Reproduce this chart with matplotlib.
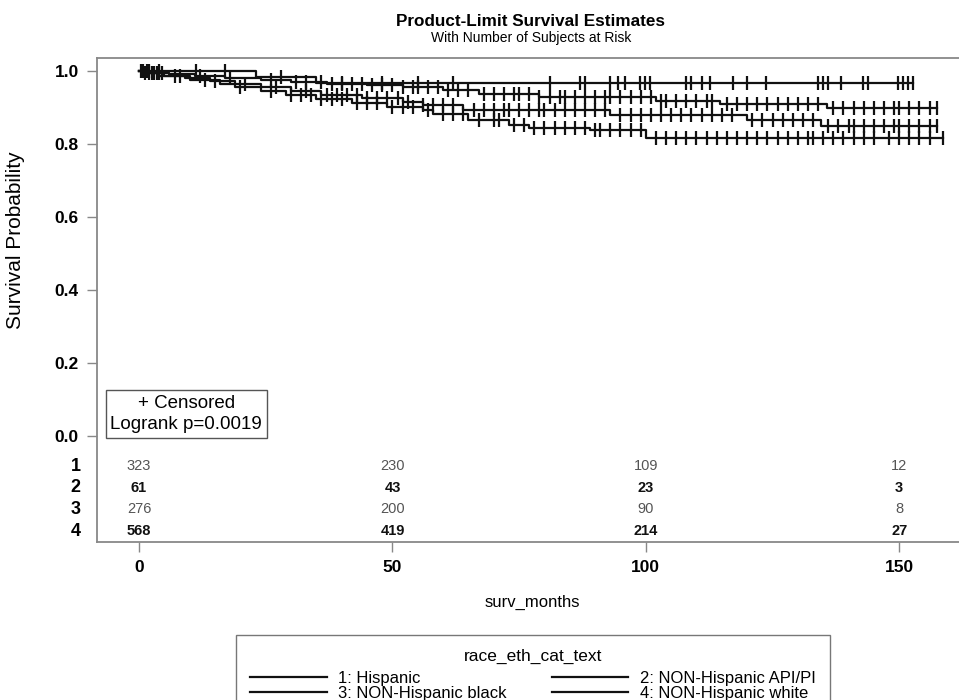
import numpy as np
import matplotlib
matplotlib.use('Agg')
import matplotlib.pyplot as plt
from matplotlib.lines import Line2D

# survival curves (event times in months, survival after each event)
t_hisp = [1, 4, 9, 14, 19, 24, 30, 36, 44, 52, 56, 64, 93, 120, 134.5]
s_hisp = [0.993, 0.987, 0.98, 0.972, 0.963, 0.955, 0.945, 0.935, 0.925, 0.915, 0.905, 0.893, 0.879, 0.866, 0.848]
end_hisp = 157.5
c_hisp = [0.8, 2, 3.5, 8, 15, 21, 27, 33, 37, 39, 41, 43, 45, 47, 49, 51, 53, 56, 58, 60, 62, 66, 68, 70,
          72, 73, 75, 77, 79, 80, 82, 84, 86, 88, 90, 92, 95, 97, 99, 101, 103, 105, 107, 109, 111, 113,
          115, 117, 121, 123, 125, 127, 129, 131, 133, 136, 138, 140, 141, 143, 145, 147, 149, 150, 152,
          154, 156, 157.5]

t_api = [23, 35]
s_api = [0.984, 0.967]
end_api = 152.8
c_api = [0.6, 2, 4, 11.3, 16.9, 28, 40, 48, 55, 62, 81.0, 87.0, 88.0, 92.9, 94.5, 95.9, 98.8, 99.8,
         100.8, 108.0, 109.0, 111.0, 112.6, 117.2, 119.9, 123.8, 134.0, 135.0, 136.0, 138.6, 142.9,
         143.9, 149.8, 150.8, 151.8, 152.8]

t_black = [1, 5, 10, 16, 19, 24, 29, 35, 42, 49, 56, 58, 65, 73, 77, 89, 100]
s_black = [0.993, 0.985, 0.975, 0.965, 0.955, 0.945, 0.935, 0.922, 0.912, 0.902, 0.893, 0.882, 0.865,
           0.852, 0.843, 0.838, 0.817]
end_black = 158.6
c_black = [0.3, 1.2, 2.5, 4, 7, 13, 20, 26, 30, 32, 34, 36, 38, 40, 43, 45, 47, 50, 52, 54, 57, 60, 62,
           64, 67, 70, 71, 74, 76, 78, 80, 82, 84, 86, 88, 90, 91, 93, 95, 97, 99, 102, 104, 106, 108,
           110, 112, 114, 116, 118, 120, 122, 124, 126, 128, 130, 132, 133, 135, 137, 139, 141, 143,
           145, 148, 150, 152, 154, 156, 158.6]

t_white = [2, 6, 11, 17, 24, 30, 37, 45, 52, 60, 67, 79, 102, 114.6, 135.7]
s_white = [0.995, 0.99, 0.985, 0.98, 0.975, 0.97, 0.965, 0.96, 0.955, 0.948, 0.937, 0.927, 0.918, 0.908, 0.897]
end_white = 157.4
c_white = [0.5, 1.5, 3, 4.5, 12, 18, 26, 31, 33, 36, 38, 40, 42, 44, 46, 48, 50, 52, 54, 55, 57, 59, 61,
           63, 65, 68, 70, 72, 74, 75, 77, 79, 81, 83, 84, 86, 88, 90, 92, 93, 95, 97, 99, 101, 103, 104,
           106, 108, 110, 112, 113, 116, 118, 120, 122, 124, 126, 128, 130, 132, 134, 137, 139, 141, 143,
           145, 147, 149, 150, 152, 154, 156, 157.4]

group_labels = ['1: Hispanic', '2: NON-Hispanic API/PI', '3: NON-Hispanic black', '4: NON-Hispanic white']
risk_times = [0, 50, 100, 150]
risk_1 = [323, 230, 109, 12]
risk_2 = [61, 43, 23, 3]
risk_3 = [276, 200, 90, 8]
risk_4 = [568, 419, 214, 27]

plt.rcParams['font.family'] = 'Liberation Sans'

fig = plt.figure(figsize=(9.59, 7), dpi=100)
ax = fig.add_axes([97/959, 1-542/700, 1-97/959, 484/700])

curves = [(t_hisp, s_hisp, end_hisp, c_hisp), (t_api, s_api, end_api, c_api),
          (t_black, s_black, end_black, c_black), (t_white, s_white, end_white, c_white)]
for t, s, end, cens in curves:
    tt = [0] + t + [end]
    ss = [1.0] + s + [s[-1]]
    ax.step(tt, ss, where='post', color='#111111', lw=1.6)
    lev = np.array([1.0] + s)
    cy = lev[np.searchsorted(t, cens, side='right')]
    ax.plot(cens, cy, ls='none', marker='|', ms=10, mew=1.6, color='#111111')

ax.set_xlim(-8.3, 161.8)
ax.set_ylim(-0.29, 1.035)
ax.set_yticks([0.0, 0.2, 0.4, 0.6, 0.8, 1.0])
ax.set_yticklabels(['0.0', '0.2', '0.4', '0.6', '0.8', '1.0'], fontweight='bold', fontsize=12.5)
ax.set_xticks(risk_times)
ax.set_xticklabels([str(v) for v in risk_times], fontweight='bold', fontsize=12.5)
ax.tick_params(axis='both', length=7, width=1, color='#888888', pad=6)
for sp in ['top', 'left', 'bottom']:
    ax.spines[sp].set_color('#888888')
    ax.spines[sp].set_linewidth(1.3)
ax.spines['right'].set_visible(False)

ax.set_ylabel('Survival Probability', fontsize=15)
ax.yaxis.set_label_coords(-0.083, 0.624)

# number at risk table inside the frame
rows = [(risk_1, -0.082, 'normal', '#555555'), (risk_2, -0.142, 'bold', '#111111'),
        (risk_3, -0.200, 'normal', '#555555'), (risk_4, -0.260, 'bold', '#111111')]
for i, (vals, yy, fw, col) in enumerate(rows):
    for x, v in zip(risk_times, vals):
        ax.text(x, yy, str(v), ha='center', va='center', fontsize=10.5, fontweight=fw, color=col)
    ax.text(-0.019, yy, str(i + 1), transform=ax.get_yaxis_transform(), ha='right', va='center',
            fontsize=13, fontweight='bold')

ax.text(9.3, 0.06, '+ Censored\nLogrank p=0.0019', ha='center', va='center', fontsize=13.5,
        linespacing=1.35, bbox=dict(boxstyle='square,pad=0.25', fc='white', ec='#555555', lw=1))

fig.text(531/959, 1-21/700, 'Product-Limit Survival Estimates', ha='center', va='center',
         fontsize=12.3, fontweight='bold')
fig.text(531/959, 1-38/700, 'With Number of Subjects at Risk', ha='center', va='center', fontsize=10)
fig.text(532/959, 1-602/700, 'surv_months', ha='center', va='center', fontsize=12)

order = [0, 2, 1, 3]
handles = [Line2D([], [], color='#111111', lw=1.6) for _ in group_labels]
leg = fig.legend([handles[i] for i in order], [group_labels[i] for i in order], ncol=2,
                 loc='upper left', bbox_to_anchor=(236/959, 1-642/700, 594/959, 0.01), mode='expand',
                 title='race_eth_cat_text', fontsize=12, title_fontsize=12.5, frameon=True,
                 fancybox=False, handlelength=4.6, columnspacing=1.2, handletextpad=0.7,
                 borderpad=0.85, labelspacing=0.0, borderaxespad=0)
leg._legend_box.sep = 5
leg.get_frame().set_edgecolor('#555555')
leg.get_frame().set_linewidth(1)

fig.savefig('out.png', dpi=100)
